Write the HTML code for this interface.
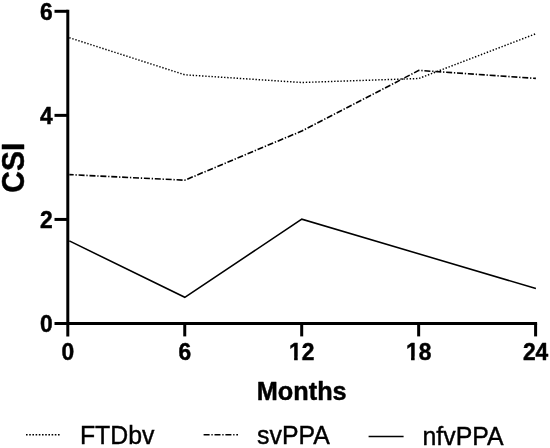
<!DOCTYPE html>
<html>
<head>
<meta charset="utf-8">
<title>CSI over Months</title>
<style>
html,body{margin:0;padding:0;background:#fff;}
body{width:550px;height:448px;overflow:hidden;}
svg{display:block;}
text{font-family:"Liberation Sans",Arial,Helvetica,sans-serif;fill:#000;}
.b{font-weight:bold;stroke:#000;stroke-width:0.45px;stroke-linejoin:round;}
svg{filter:grayscale(1);}
</style>
</head>
<body>
<svg width="550" height="448" viewBox="0 0 550 448">
<rect width="550" height="448" fill="#fff"/>
<g stroke="#000" stroke-width="3.0" fill="none">
  <line x1="67.8" y1="9.80" x2="67.8" y2="336.4"/>
  <line x1="54.5" y1="323.5" x2="537.10" y2="323.5"/>
  <line x1="54.5" y1="219.43" x2="67.8" y2="219.43"/>
  <line x1="54.5" y1="115.37" x2="67.8" y2="115.37"/>
  <line x1="54.5" y1="11.30" x2="67.8" y2="11.30"/>
  <line x1="184.75" y1="323.5" x2="184.75" y2="336.4"/>
  <line x1="301.70" y1="323.5" x2="301.70" y2="336.4"/>
  <line x1="418.65" y1="323.5" x2="418.65" y2="336.4"/>
  <line x1="535.60" y1="323.5" x2="535.60" y2="336.4"/>
</g>
<g fill="none" stroke="#000" stroke-linejoin="miter">
  <polyline points="69.3,37.7 184.8,74.8 301.8,82.5 418.9,78.5 535.7,33.8" stroke-width="1.45" stroke-dasharray="1.4 1.75"/>
  <polyline points="69.3,174.6 184.8,180.2 301.8,131 418.9,70.4 535.9,78.4" stroke-width="1.62" stroke-dasharray="6 1.8 1.3 1.8" stroke-dashoffset="1.6"/>
  <polyline points="69.3,240.9 184.8,297.3 301.8,219.2 535.9,288.5" stroke-width="1.55"/>
</g>
<g class="b">
  <text transform="translate(52.70,332.20) scale(1,1.09)" font-size="22.8" text-anchor="end">0</text>
  <text transform="translate(52.70,228.13) scale(1,1.09)" font-size="22.8" text-anchor="end">2</text>
  <text transform="translate(52.70,124.07) scale(1,1.09)" font-size="22.8" text-anchor="end">4</text>
  <text transform="translate(52.70,20.00) scale(1,1.09)" font-size="22.8" text-anchor="end">6</text>
  <text transform="translate(67.80,360.40) scale(1,1.09)" font-size="22.8" text-anchor="middle">0</text>
  <text transform="translate(184.75,360.40) scale(1,1.09)" font-size="22.8" text-anchor="middle">6</text>
  <text transform="translate(301.70,360.40) scale(1,1.09)" font-size="22.8" text-anchor="middle">12</text>
  <text transform="translate(418.65,360.40) scale(1,1.09)" font-size="22.8" text-anchor="middle">18</text>
  <text transform="translate(535.60,360.40) scale(1,1.09)" font-size="22.8" text-anchor="middle">24</text>
</g>
<rect x="289.86" y="356.66" width="4.26" height="4.44" fill="#fff"/>
<rect x="297.70" y="356.66" width="4.10" height="4.44" fill="#fff"/>
<rect x="406.81" y="356.66" width="4.26" height="4.44" fill="#fff"/>
<rect x="414.65" y="356.66" width="4.10" height="4.44" fill="#fff"/>
<text class="b" font-size="25.3" text-anchor="middle" transform="translate(301.7,400.1) scale(1,1.03)">Months</text>
<text class="b" font-size="30" text-anchor="middle" transform="translate(24.1,167.7) rotate(-90) scale(1,1.05)">CSI</text>
<g fill="none" stroke="#000">
  <line x1="26" y1="434.8" x2="60" y2="434.8" stroke-width="1.5" stroke-dasharray="1.6 1.6"/>
  <line x1="203.6" y1="434.8" x2="238" y2="434.8" stroke-width="1.55" stroke-dasharray="6 1.8 1.3 1.8"/>
  <line x1="368.6" y1="436.5" x2="403.6" y2="436.5" stroke-width="1.5"/>
</g>
<g font-size="24.85" stroke="#000" stroke-width="0.4">
  <text transform="translate(79.9,443.7) scale(1,1.045)">FTDbv</text>
  <text transform="translate(257.1,443.5) scale(1,1.045)">svPPA</text>
  <text transform="translate(422.5,445.3) scale(1,1.045)">nfvPPA</text>
</g>
</svg>
</body>
</html>
